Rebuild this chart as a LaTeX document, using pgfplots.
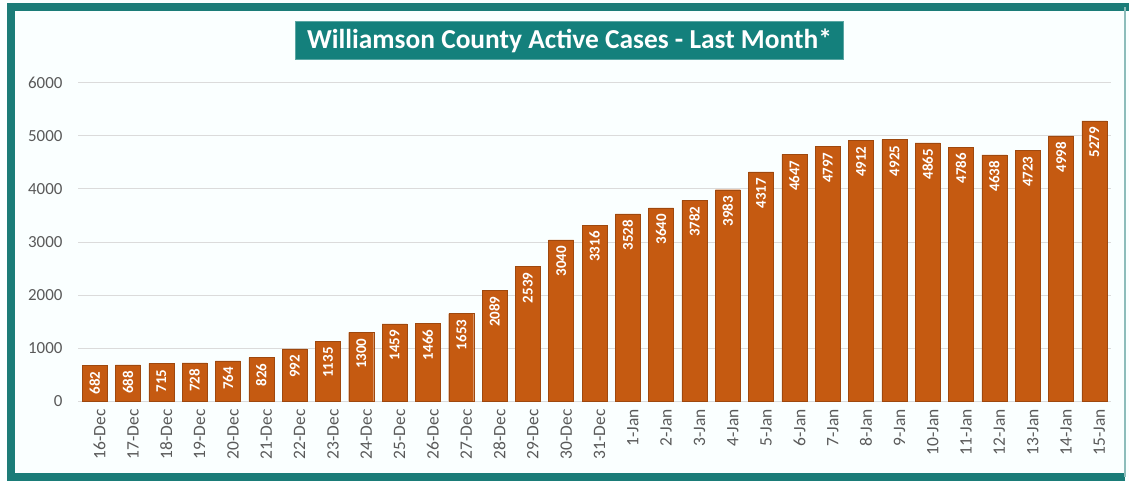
\documentclass[border=0pt]{standalone}
\usepackage{pgfplots}
\pgfplotsset{compat=1.18}
\usepackage{pgfplotstable}
\usepackage{fontspec}
\setmainfont{Carlito}

\definecolor{barcolor}{HTML}{C55A11}
\definecolor{frameteal}{HTML}{1A7C78}
\definecolor{titleteal}{HTML}{14807C}
\definecolor{paper}{HTML}{FAFFFF}
\definecolor{ticktext}{HTML}{595959}

\pgfplotstableread{
idx label value
0 16-Dec 682
1 17-Dec 688
2 18-Dec 715
3 19-Dec 728
4 20-Dec 764
5 21-Dec 826
6 22-Dec 992
7 23-Dec 1135
8 24-Dec 1300
9 25-Dec 1459
10 26-Dec 1466
11 27-Dec 1653
12 28-Dec 2089
13 29-Dec 2539
14 30-Dec 3040
15 31-Dec 3316
16 1-Jan 3528
17 2-Jan 3640
18 3-Jan 3782
19 4-Jan 3983
20 5-Jan 4317
21 6-Jan 4647
22 7-Jan 4797
23 8-Jan 4912
24 9-Jan 4925
25 10-Jan 4865
26 11-Jan 4786
27 12-Jan 4638
28 13-Jan 4723
29 14-Jan 4998
30 15-Jan 5279
}\casestable

\begin{document}
\begin{tikzpicture}[x=1bp,y=1bp]
    % page and frame
    \path[use as bounding box, fill=paper] (0,0) rectangle (1129,481);
    \draw[frameteal, line width=8bp] (1125,4) -- (11,4) -- (11,473.5) -- (1129,473.5);
    \draw[frameteal!50, line width=1.5bp] (1125,4) -- (1125,473.5);

    \begin{axis}[
        at={(78bp,79.5bp)}, anchor=south west,
        width=1033bp, height=319bp, scale only axis,
        ybar, bar width=25bp,
        xmin=-0.5, xmax=30.5, ymin=0, ymax=6000,
        ytick={0,1000,...,6000},
        xtick=data,
        xticklabels from table={\casestable}{label},
        axis line style={draw=none},
        tick style={draw=none},
        ymajorgrids, grid style={draw=black!14, line width=0.8bp},
        /pgf/number format/assume math mode=true,
        /pgf/number format/1000 sep={},
        yticklabel style={font=\fontsize{17}{17}\selectfont, text=ticktext, xshift=-12bp},
        xticklabel style={font=\fontsize{17.5}{17.5}\selectfont, text=ticktext, rotate=90, anchor=east, yshift=-5bp},
        nodes near coords,
        every node near coord/.append style={rotate=90, anchor=east, inner xsep=6bp,
            font=\bfseries\fontsize{15}{15}\selectfont, text=white},
    ]
    \addplot[fill=barcolor, draw=barcolor!80!black, line width=0.4bp]
        table[x=idx, y=value] {\casestable};
    \end{axis}

    % title box
    \node[fill=titleteal, draw=titleteal!70!white, line width=1bp, text=white,
          minimum width=547bp, minimum height=38bp, inner sep=0pt,
          font=\bfseries\fontsize{27.5}{27.5}\selectfont]
        at (569.5,440) {Williamson County Active Cases - Last Month*};
\end{tikzpicture}
\end{document}
